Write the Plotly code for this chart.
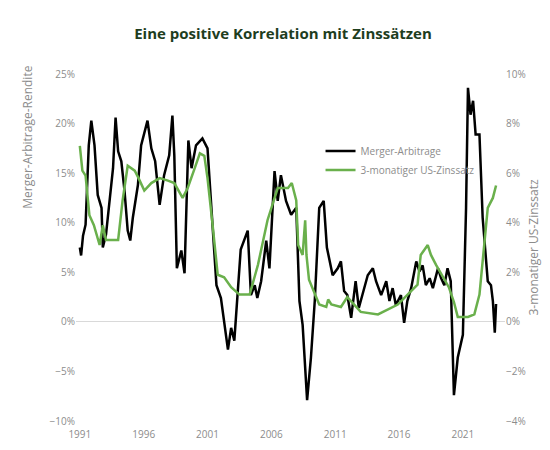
import plotly.graph_objects as go

# Merger-Arbitrage return (% p.a.)
ma_year = [1991.0, 1991.1, 1991.25, 1991.45, 1991.7, 1991.9, 1992.15, 1992.4, 1992.7, 1992.8,
           1993.05, 1993.3, 1993.6, 1993.8, 1994.0, 1994.25, 1994.5, 1994.75, 1994.95, 1995.15,
           1995.55, 1995.8, 1996.3, 1996.6, 1996.9, 1997.25, 1997.6, 1998.0, 1998.25, 1998.4,
           1998.6, 1998.95, 1999.2, 1999.5, 1999.75, 2000.1, 2000.6, 2001.0, 2001.3, 2001.7,
           2002.05, 2002.3, 2002.6, 2002.85, 2003.1, 2003.35, 2003.6, 2004.15, 2004.4, 2004.7,
           2004.9, 2005.2, 2005.6, 2005.85, 2006.25, 2006.5, 2006.75, 2007.15, 2007.55, 2007.95,
           2008.2, 2008.45, 2008.8, 2009.1, 2009.4, 2009.75, 2010.1, 2010.35, 2010.5, 2010.8,
           2011.2, 2011.45, 2011.7, 2011.95, 2012.25, 2012.6, 2012.85, 2013.15, 2013.55, 2013.95,
           2014.2, 2014.6, 2015.0, 2015.25, 2015.5, 2015.75, 2016.15, 2016.4, 2016.65, 2016.95,
           2017.35, 2017.6, 2017.85, 2018.1, 2018.4, 2018.65, 2019.05, 2019.3, 2019.55, 2019.8,
           2020.05, 2020.3, 2020.6, 2021.0, 2021.25, 2021.4, 2021.6, 2021.8, 2022.0, 2022.3,
           2022.55, 2022.95, 2023.2, 2023.35, 2023.5, 2023.6]
ma_ret = [7.5, 6.7, 8.7, 9.8, 17.8, 20.3, 17.8, 12.8, 11.5, 7.5,
          8.8, 12.2, 15.5, 20.6, 17.2, 16.2, 13.2, 9.2, 8.2, 10.5,
          13.8, 17.8, 20.3, 17.5, 16.2, 11.8, 14.8, 16.8, 20.8, 16.8,
          5.4, 7.2, 4.9, 18.3, 15.5, 17.8, 18.5, 17.5, 11.5, 3.7,
          2.4, 0.1, -2.8, -0.6, -1.9, 2.7, 7.3, 9.2, 2.7, 3.7,
          2.4, 4.1, 8.2, 5.4, 15.2, 12.2, 14.8, 12.2, 10.8, 11.5,
          2.1, -0.3, -7.9, -3.6, 2.1, 11.5, 12.2, 7.5, 6.5, 4.7,
          5.4, 6.1, 3.1, 2.7, 0.4, 4.1, 1.4, 2.7, 4.7, 5.4,
          4.1, 2.7, 4.1, 2.1, 3.4, 1.7, 2.7, -0.1, 2.1, 3.4,
          6.1, 5.1, 5.7, 3.7, 4.4, 3.4, 5.4, 4.4, 3.7, 5.4,
          4.1, -7.4, -3.6, -1.3, 11.5, 23.6, 20.9, 22.3, 18.9, 18.9,
          10.5, 4.1, 3.7, 2.1, -1.1, 1.8]

# 3-month US rate (%), right axis
tb_year = [1991.0, 1991.2, 1991.45, 1991.75, 1992.1, 1992.55, 1992.8, 1993.05, 1994.0, 1994.35,
           1994.75, 1995.3, 1995.6, 1996.05, 1996.6, 1997.25, 1997.9, 1998.4, 1999.05, 1999.45,
           2000.0, 2000.4, 2000.75, 2001.0, 2001.4, 2001.8, 2002.3, 2002.85, 2003.5, 2004.3,
           2004.95, 2005.7, 2006.5, 2007.3, 2007.6, 2007.95, 2008.1, 2008.45, 2008.65, 2008.75,
           2008.95, 2009.4, 2009.75, 2010.3, 2010.45, 2010.7, 2011.45, 2011.95, 2013.0, 2014.35,
           2015.9, 2017.45, 2017.7, 2018.25, 2018.5, 2018.9, 2019.55, 2019.9, 2020.3, 2020.6,
           2021.4, 2021.9, 2022.3, 2022.7, 2022.95, 2023.35, 2023.6]
tb_rate = [7.1, 6.1, 5.9, 4.3, 3.9, 3.1, 3.9, 3.3, 3.3, 4.9,
           6.3, 6.1, 5.8, 5.3, 5.6, 5.8, 5.7, 5.6, 5.0, 5.4,
           6.2, 6.8, 6.7, 5.8, 3.9, 1.9, 1.8, 1.4, 1.1, 1.1,
           2.3, 4.1, 5.4, 5.4, 5.6, 4.9, 3.1, 2.7, 4.1, 2.7,
           1.7, 1.1, 0.7, 0.6, 0.9, 0.7, 0.6, 1.0, 0.4, 0.3,
           0.7, 1.5, 2.7, 3.1, 2.7, 2.3, 1.7, 1.4, 0.8, 0.2,
           0.2, 0.3, 1.1, 3.1, 4.6, 5.0, 5.5]

year_ticks = [1991, 1996, 2001, 2006, 2011, 2016, 2021]

grey = '#8c8c8c'
fig = go.Figure()
fig.add_trace(go.Scatter(x=ma_year, y=ma_ret, name='Merger-Arbitrage', mode='lines',
                         line={'color': 'black', 'width': 2.5}))
fig.add_trace(go.Scatter(x=tb_year, y=tb_rate, name='3-monatiger US-Zinssatz', mode='lines',
                         line={'color': '#6ab04c', 'width': 2.5}, yaxis='y2'))

fig.update_layout(
    width=550, height=450, plot_bgcolor='white', paper_bgcolor='white',
    font={'family': 'Open Sans', 'size': 10, 'color': grey},
    title={'text': '<b>Eine positive Korrelation mit Zinssätzen</b>', 'x': 0.5, 'y': 0.955,
           'xanchor': 'center', 'font': {'size': 15, 'color': '#1e3d1e'}},
    margin={'l': 68, 'r': 53, 't': 66, 'b': 37},
    showlegend=True,
    legend={'x': 0.57, 'y': 0.82, 'xanchor': 'left', 'yanchor': 'top', 'tracegroupgap': 24,
            'bgcolor': 'rgba(0,0,0,0)', 'font': {'size': 10, 'color': grey}},
    xaxis={'range': [1990.7, 2024.3], 'tickvals': year_ticks, 'showgrid': False,
           'zeroline': False, 'ticks': '', 'ticklabelstandoff': 6},
    yaxis={'range': [-10, 25], 'dtick': 5, 'ticksuffix': '%', 'showgrid': False,
           'zeroline': True, 'zerolinecolor': '#d9d9d9', 'zerolinewidth': 1},
    yaxis2={'title': {'text': '3-monatiger US-Zinssatz', 'font': {'size': 12, 'color': grey},
                      'standoff': 4},
            'range': [-4, 10], 'dtick': 2, 'ticksuffix': '%', 'showgrid': False,
            'zeroline': False, 'overlaying': 'y', 'side': 'right'},
)
fig.add_annotation(text='Merger-Arbitrage-Rendite', textangle=-90, showarrow=False,
                   xref='paper', yref='paper', x=-0.115, y=1.03, xanchor='center',
                   yanchor='top', font={'size': 12, 'color': grey})

fig.write_html("out.html")
